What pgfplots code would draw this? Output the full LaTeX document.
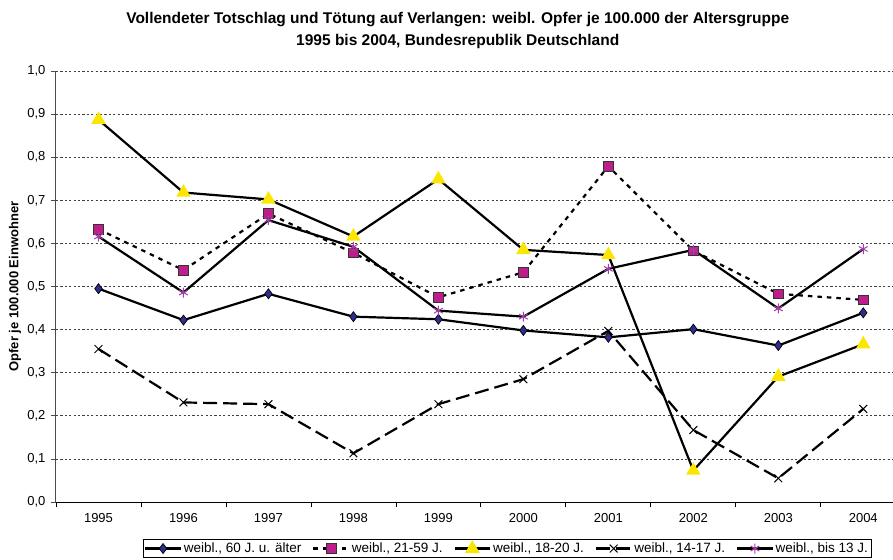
\documentclass[border=0pt]{standalone}
\usepackage{pgfplots}
\pgfplotsset{compat=1.18}
\usepackage{fontspec}
\setmainfont{Liberation Sans}
\definecolor{dia}{RGB}{45,45,140}
\definecolor{sq}{RGB}{190,30,140}
\definecolor{tri}{RGB}{250,230,0}
\definecolor{ast}{RGB}{165,60,170}
\begin{document}
\begin{tikzpicture}
\begin{axis}[
  scale only axis,
  width=837pt, height=431pt,
  xmin=-0.5, xmax=9.35,
  ymin=0, ymax=1,
  axis x line=bottom, axis y line=left,
  axis line style={-, line width=1pt},
  x axis line style={black},
  y axis line style={black!70},
  xtick={0,1,2,3,4,5,6,7,8,9},
  xticklabels={1995,1996,1997,1998,1999,2000,2001,2002,2003,2004},
  major x tick style={draw=none},
  minor xtick={-0.5,0.5,1.5,2.5,3.5,4.5,5.5,6.5,7.5,8.5},
  minor x tick style={black, line width=0.8pt},
  minor tick length=5pt,
  tick align=outside,
  ytick={0,0.1,...,1.0},
  major y tick style={black!70, line width=0.8pt},
  major tick length=5pt,
  ymajorgrids,
  major grid style={black!75, line width=0.7pt, dash pattern=on 2.2pt off 2.2pt},
  yticklabel style={xshift=-2pt, /pgf/number format/.cd, fixed, fixed zerofill, precision=1, use comma, assume math mode=true},
  ticklabel style={font=\fontsize{13}{15}\selectfont},
  xticklabel style={yshift=-3pt},
  ylabel={\textbf{Opfer je 100.000 Einwohner}},
  ylabel style={font=\fontsize{13}{15}\selectfont, at={(axis description cs:-0.049,0.5)}, anchor=center},
  legend columns=5,
  legend style={at={(axis description cs:0.539,-0.108)}, anchor=center, draw=black, line width=0.8pt,
    font=\fontsize{13.5}{15}\selectfont, inner sep=1.2pt,
    /tikz/every even column/.append style={column sep=9pt}},
  legend image code/.code={\draw[mark repeat=2,mark phase=2,#1] plot coordinates {(0cm,0cm) (0.62cm,0cm) (1.24cm,0cm)};},
  clip=false,
]
\addplot[black, line width=2.2pt, mark=diamond*, mark size=5pt, mark options={solid, fill=dia, draw=black, line width=0.7pt}]
 coordinates {(0,0.495) (1,0.422) (2,0.483) (3,0.430) (4,0.424) (5,0.398) (6,0.382) (7,0.401) (8,0.363) (9,0.439)};
\addlegendentry{weibl., 60 J. u. älter}
\addplot[black, line width=2.2pt, dash pattern=on 4.5pt off 5pt, mark=square*, mark size=4.8pt, mark options={solid, fill=sq, draw=black!80, line width=0.8pt}]
 coordinates {(0,0.633) (1,0.538) (2,0.669) (3,0.578) (4,0.475) (5,0.533) (6,0.779) (7,0.583) (8,0.483) (9,0.469)};
\addlegendentry{weibl., 21-59 J.}
\addplot[black, line width=2.2pt, mark=triangle*, mark size=6.2pt, mark options={solid, fill=tri, draw=tri}]
 coordinates {(0,0.887) (1,0.718) (2,0.702) (3,0.616) (4,0.749) (5,0.585) (6,0.573) (7,0.073) (8,0.291) (9,0.366)};
\addlegendentry{weibl., 18-20 J.}
\addplot[black, line width=2.2pt, dash pattern=on 14pt off 6pt, mark=x, mark size=5.5pt, mark options={solid, draw=black, line width=1pt}]
 coordinates {(0,0.355) (1,0.231) (2,0.227) (3,0.113) (4,0.227) (5,0.285) (6,0.397) (7,0.167) (8,0.055) (9,0.216)};
\addlegendentry{weibl., 14-17 J.}
\addplot[black, line width=2.2pt, mark=asterisk, mark size=5pt, mark options={solid, draw=ast, line width=1pt}]
 coordinates {(0,0.616) (1,0.486) (2,0.654) (3,0.592) (4,0.444) (5,0.430) (6,0.541) (7,0.585) (8,0.449) (9,0.587)};
\addlegendentry{weibl., bis 13 J.}
\node[font=\bfseries\fontsize{15.5}{22}\selectfont, align=center, anchor=center] at (axis description cs:0.48,1.093)
 {Vollendeter Totschlag und Tötung auf Verlangen: weibl. Opfer je 100.000 der Altersgruppe\\1995 bis 2004, Bundesrepublik Deutschland};
\coordinate (bl) at (axis description cs:0,0);
\coordinate (tr) at (axis description cs:1,1);
\end{axis}
\pgfresetboundingbox
\path[use as bounding box] ([xshift=-56pt,yshift=-57pt]bl) rectangle ([yshift=71pt]tr);
\end{tikzpicture}
\end{document}
